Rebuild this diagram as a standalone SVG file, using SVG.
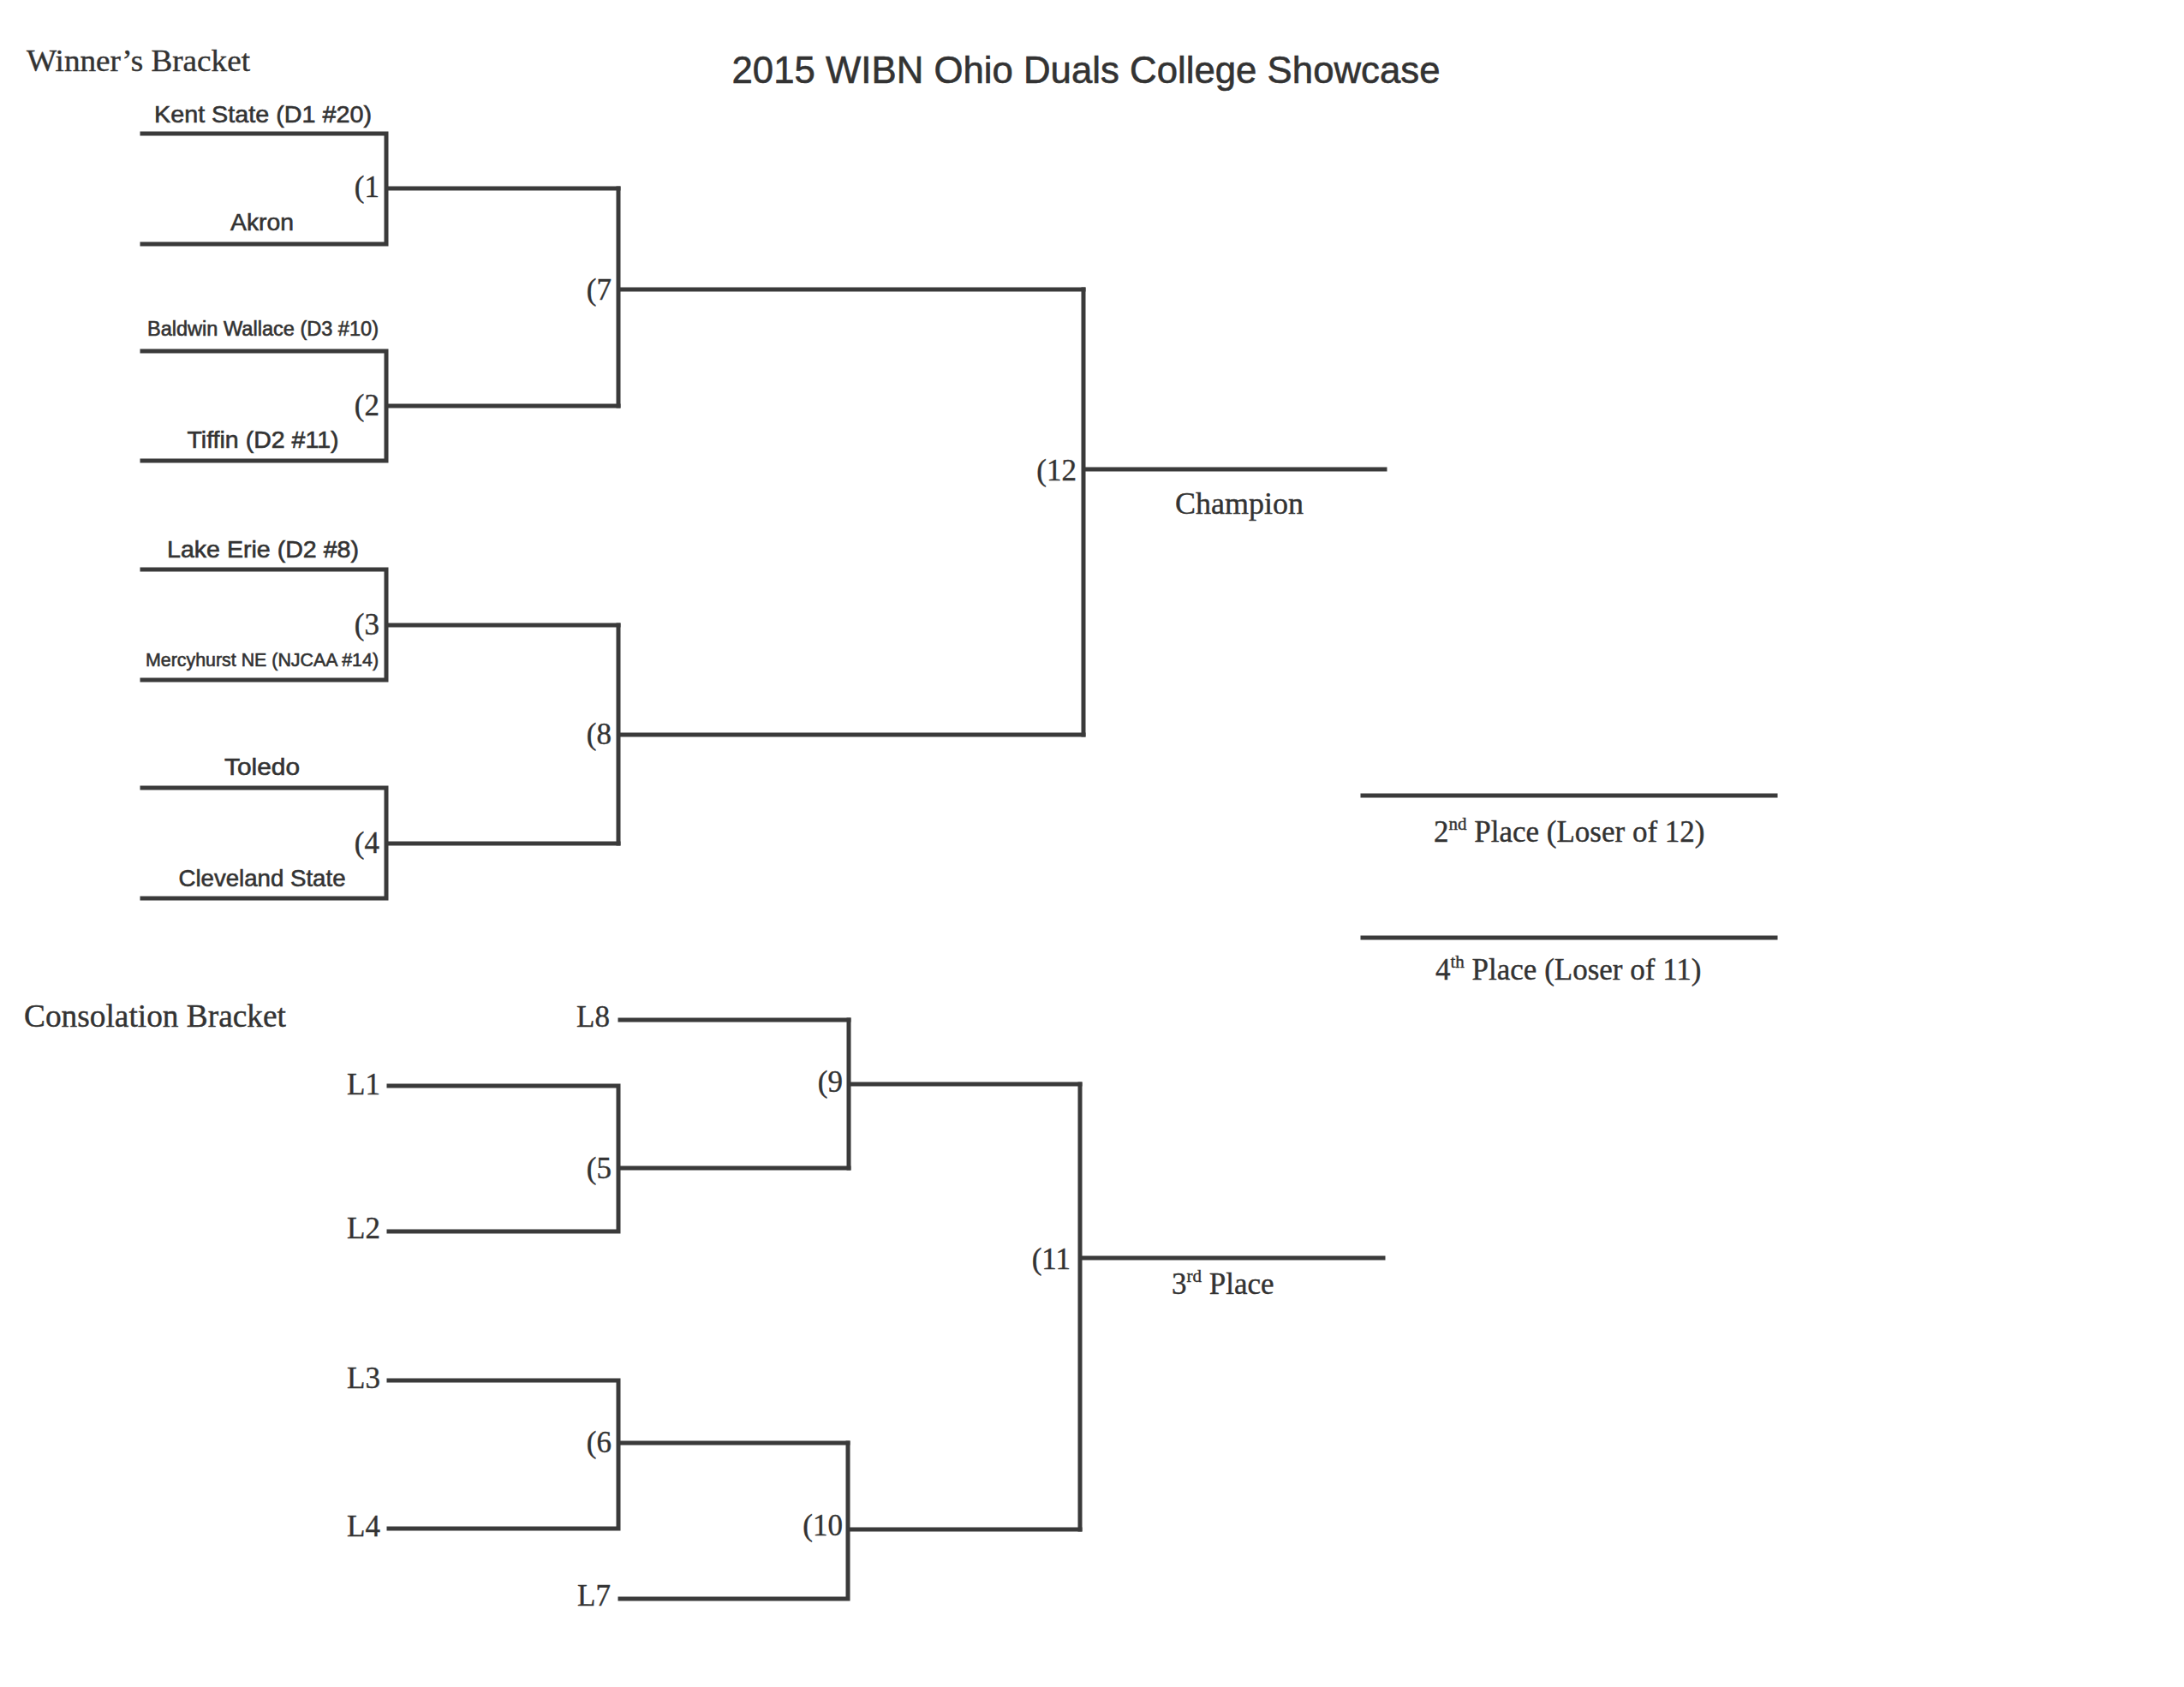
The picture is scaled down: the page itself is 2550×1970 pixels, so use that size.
<svg xmlns="http://www.w3.org/2000/svg" width="2550" height="1970" viewBox="0 0 2550 1970">
<style>
.bg{fill:#ffffff}
.ln{fill:none;stroke:#3a3a3a;stroke-width:5;stroke-linecap:square;stroke-linejoin:miter}
.sans{font-family:"Liberation Sans",Arial,sans-serif;fill:#333333;stroke:#333333;stroke-width:0.6}
.serif{font-family:"Liberation Serif","Times New Roman",serif;fill:#333333;stroke:#333333;stroke-width:0.4}
.team{font-size:28px;text-anchor:middle}
.mn{font-size:35px;text-anchor:end}
.lab{font-size:35px}
</style>
<rect class="bg" x="0" y="0" width="2550" height="1970"/>
<g id="titles">
<text id="title" class="sans" x="1268" y="97" font-size="44" text-anchor="middle" textLength="827" lengthAdjust="spacingAndGlyphs">2015 WIBN Ohio Duals College Showcase</text>
<text id="winners-heading" class="serif" x="31" y="83" font-size="36" textLength="261" lengthAdjust="spacingAndGlyphs">Winner’s Bracket</text>
<text id="consolation-heading" class="serif" x="28" y="1199" font-size="37" textLength="306" lengthAdjust="spacingAndGlyphs">Consolation Bracket</text>
</g>
<g id="connectors">
<path class="ln" d="M166,156 H451 V285 H166 M451,220 H722"/>
<path class="ln" d="M166,410 H451 V538 H166 M451,474 H722"/>
<path class="ln" d="M166,665 H451 V794 H166 M451,730 H722"/>
<path class="ln" d="M166,920 H451 V1049 H166 M451,985 H722"/>
<path class="ln" d="M722,220 V474 M722,338 H1265"/>
<path class="ln" d="M722,730 V985 M722,858 H1265"/>
<path class="ln" d="M1265,338 V858 M1265,548 H1617"/>
<path class="ln" d="M1591,929 H2073"/>
<path class="ln" d="M1591,1095 H2073"/>
<path class="ln" d="M724,1191 H991"/>
<path class="ln" d="M454,1268 H722 V1438 H454 M722,1364 H991"/>
<path class="ln" d="M991,1191 V1364 M991,1266 H1261"/>
<path class="ln" d="M454,1612 H722 V1785 H454 M722,1685 H990"/>
<path class="ln" d="M724,1867 H990 V1685 M990,1786 H1261"/>
<path class="ln" d="M1261,1266 V1786 M1261,1469 H1615"/>
</g>
<g id="team-kent"><text class="sans team" x="307" y="143" textLength="254" lengthAdjust="spacingAndGlyphs">Kent State (D1 #20)</text></g>
<g id="team-akron"><text class="sans team" x="306" y="269" textLength="74" lengthAdjust="spacingAndGlyphs">Akron</text></g>
<g id="team-baldwin"><text class="sans team" x="307" y="392" style="font-size:23px" textLength="270" lengthAdjust="spacingAndGlyphs">Baldwin Wallace (D3 #10)</text></g>
<g id="team-tiffin"><text class="sans team" x="307" y="523" textLength="177" lengthAdjust="spacingAndGlyphs">Tiffin (D2 #11)</text></g>
<g id="team-lakeerie"><text class="sans team" x="307" y="651" textLength="224" lengthAdjust="spacingAndGlyphs">Lake Erie (D2 #8)</text></g>
<g id="team-mercyhurst"><text class="sans team" x="306" y="778" style="font-size:22px" textLength="272" lengthAdjust="spacingAndGlyphs">Mercyhurst NE (NJCAA #14)</text></g>
<g id="team-toledo"><text class="sans team" x="306" y="905" textLength="88" lengthAdjust="spacingAndGlyphs">Toledo</text></g>
<g id="team-cleveland"><text class="sans team" x="306" y="1035" textLength="195" lengthAdjust="spacingAndGlyphs">Cleveland State</text></g>
<g id="match-1"><text class="serif mn" x="443" y="230">(1</text></g>
<g id="match-2"><text class="serif mn" x="443" y="485">(2</text></g>
<g id="match-3"><text class="serif mn" x="443" y="741">(3</text></g>
<g id="match-4"><text class="serif mn" x="443" y="996">(4</text></g>
<g id="match-7"><text class="serif mn" x="714" y="350">(7</text></g>
<g id="match-8"><text class="serif mn" x="714" y="869">(8</text></g>
<g id="match-12"><text class="serif mn" x="1257" y="561">(12</text></g>
<g id="match-5"><text class="serif mn" x="714" y="1376">(5</text></g>
<g id="match-9"><text class="serif mn" x="984" y="1275">(9</text></g>
<g id="match-6"><text class="serif mn" x="714" y="1696">(6</text></g>
<g id="match-10"><text class="serif mn" x="984" y="1793">(10</text></g>
<g id="match-11"><text class="serif mn" x="1250" y="1482">(11</text></g>
<g id="slot-L8"><text class="serif mn" x="712" y="1199">L8</text></g>
<g id="slot-L1"><text class="serif mn" x="444" y="1278">L1</text></g>
<g id="slot-L2"><text class="serif mn" x="444" y="1446">L2</text></g>
<g id="slot-L3"><text class="serif mn" x="444" y="1621">L3</text></g>
<g id="slot-L4"><text class="serif mn" x="444" y="1794">L4</text></g>
<g id="slot-L7"><text class="serif mn" x="713" y="1875">L7</text></g>
<g id="champion"><text class="serif lab" x="1447" y="600" text-anchor="middle" style="font-size:36px">Champion</text></g>
<g id="second-place"><text class="serif lab" x="1674" y="983">2<tspan font-size="21" dy="-14">nd</tspan><tspan dy="14"> Place (Loser of 12)</tspan></text></g>
<g id="fourth-place"><text class="serif lab" x="1676" y="1144">4<tspan font-size="21" dy="-14">th</tspan><tspan dy="14"> Place (Loser of 11)</tspan></text></g>
<g id="third-place"><text class="serif lab" x="1368" y="1511">3<tspan font-size="21" dy="-14">rd</tspan><tspan dy="14"> Place</tspan></text></g>
</svg>
